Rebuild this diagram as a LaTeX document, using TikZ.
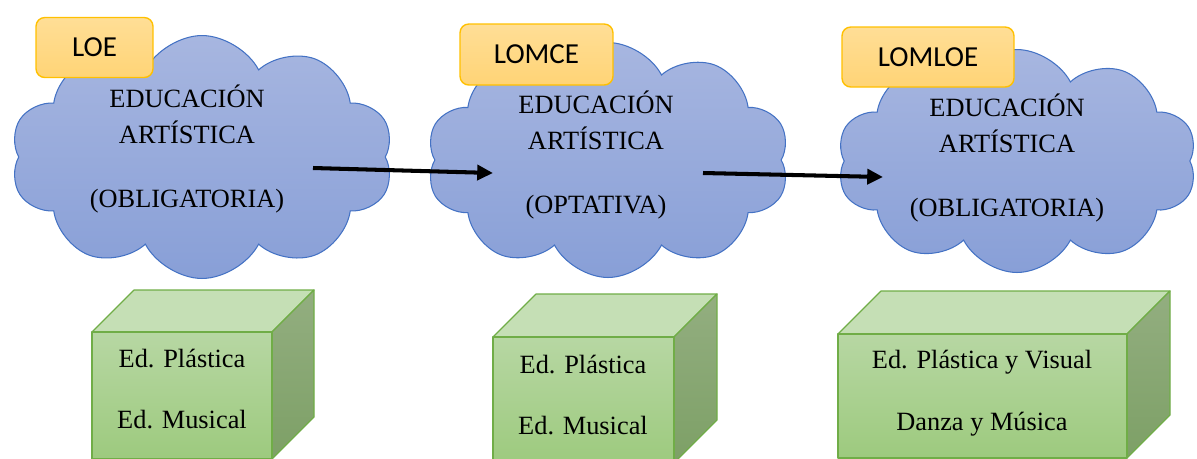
\documentclass[tikz,border=0pt]{standalone}
\usepackage{fontspec}
\setmainfont{Liberation Serif}
\newfontfamily\leyfont{Carlito}
\usetikzlibrary{shapes.symbols,arrows.meta}

\definecolor{nubearriba}{RGB}{167,182,224}
\definecolor{nubeabajo}{RGB}{136,159,215}
\definecolor{nubeborde}{RGB}{68,114,196}
\definecolor{leyarriba}{RGB}{255,222,150}
\definecolor{leyabajo}{RGB}{255,212,118}
\definecolor{leyborde}{RGB}{255,192,0}
\definecolor{frentearriba}{RGB}{183,215,163}
\definecolor{frenteabajo}{RGB}{157,202,126}
\definecolor{tapa}{RGB}{197,223,181}
\definecolor{ladoarriba}{RGB}{147,174,128}
\definecolor{ladoabajo}{RGB}{125,160,102}
\definecolor{cajaborde}{RGB}{112,173,71}

\tikzset{
  nube/.style={cloud, cloud puffs=10, cloud puff arc=125, cloud ignores aspect,
    draw=nubeborde, line width=0.6pt, top color=nubearriba, bottom color=nubeabajo,
    inner sep=0pt},
  ley/.style={draw=leyborde, line width=0.8pt, rounded corners=5pt,
    top color=leyarriba, bottom color=leyabajo, inner sep=0pt,
    font=\leyfont\fontsize{16.5}{19}\selectfont},
  textonube/.style={align=center, font=\fontsize{15}{20.4}\selectfont},
  textocaja/.style={align=center, font=\fontsize{15}{35.2}\selectfont},
  cara/.style={draw=cajaborde, line width=0.7pt, line join=round},
  flecha/.style={line width=2.3pt, -{Triangle[length=9pt,width=8.5pt]}},
}

\begin{document}
\begin{tikzpicture}[x=0.02cm, y=-0.02cm]
  \path[use as bounding box] (0,0) rectangle (1197,458);
  \clip (0,0) rectangle (1197,458);

  % nubes
  \node[nube, minimum width=7.66cm, minimum height=4.86cm] (n1) at (202,157) {};
  \node[nube, minimum width=7.26cm, minimum height=4.70cm] (n2) at (608,160) {};
  \node[nube, minimum width=7.20cm, minimum height=4.46cm] (n3) at (1017,161) {};

  \node[textonube] (t1) at (187,149) {EDUCACIÓN\\ARTÍSTICA\\[16pt](OBLIGATORIA)};
  \node[textonube] (t2) at (596,155) {EDUCACIÓN\\ARTÍSTICA\\[16pt](OPTATIVA)};
  \node[textonube] (t3) at (1007,158) {EDUCACIÓN\\ARTÍSTICA\\[16pt](OBLIGATORIA)};

  % leyes
  \node[ley, minimum width=2.34cm, minimum height=1.20cm] (loe) at (94.5,47.5) {LOE};
  \node[ley, minimum width=3.06cm, minimum height=1.22cm] (lomce) at (536.5,54.5) {LOMCE};
  \node[ley, minimum width=3.44cm, minimum height=1.20cm] (lomloe) at (928,57) {LOMLOE};

  % flechas
  \coordinate (f1a) at (313,168);
  \coordinate (f1b) at (493,173);
  \coordinate (f2a) at (703,173);
  \coordinate (f2b) at (883,177);
  \draw[flecha] (f1a) -- (f1b);
  \draw[flecha] (f2a) -- (f2b);

  % cajas
  \draw[cara, fill=tapa] (92,332) -- (134,290) -- (314,290) -- (272,332) -- cycle;
  \draw[cara, top color=ladoarriba, bottom color=ladoabajo] (272,332) -- (314,290) -- (314,417) -- (272,459) -- cycle;
  \draw[cara, top color=frentearriba, bottom color=frenteabajo] (92,332) rectangle (272,459);
  \node[textocaja] (c1) at (182,389) {Ed. Plástica\\Ed. Musical};

  \draw[cara, fill=tapa] (493,337) -- (536,294) -- (717,294) -- (674,337) -- cycle;
  \draw[cara, top color=ladoarriba, bottom color=ladoabajo] (674,337) -- (717,294) -- (717,420) -- (674,463) -- cycle;
  \draw[cara, top color=frentearriba, bottom color=frenteabajo] (493,337) rectangle (674,463);
  \node[textocaja] (c2) at (583,395) {Ed. Plástica\\Ed. Musical};

  \draw[cara, fill=tapa] (838,334) -- (881,291) -- (1170,291) -- (1127,334) -- cycle;
  \draw[cara, top color=ladoarriba, bottom color=ladoabajo] (1127,334) -- (1170,291) -- (1170,415) -- (1127,458) -- cycle;
  \draw[cara, top color=frentearriba, bottom color=frenteabajo] (838,334) rectangle (1127,458);
  \node[textocaja] (c3) at (982,393.5) {Ed. Plástica y Visual\\Danza y Música};
\end{tikzpicture}
\end{document}
